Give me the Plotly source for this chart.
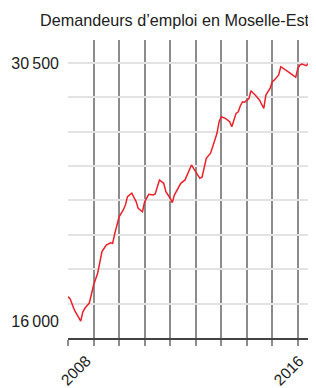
import plotly.graph_objects as go

# Monthly job-seeker counts, Moselle-Est
months = [
    "2008-01", "2008-02", "2008-04", "2008-06", "2008-07", "2008-08", "2008-09", "2008-11", "2008-12",
    "2009-01", "2009-03", "2009-04", "2009-05", "2009-06", "2009-07", "2009-09", "2009-10", "2009-11", "2009-12",
    "2010-01", "2010-03", "2010-04", "2010-05", "2010-07", "2010-09", "2010-10", "2010-12",
    "2011-01", "2011-03", "2011-05", "2011-06", "2011-07", "2011-08", "2011-10", "2011-11",
    "2012-01", "2012-02", "2012-03", "2012-05", "2012-06", "2012-08", "2012-09", "2012-10", "2012-11", "2012-12",
    "2013-02", "2013-03", "2013-04", "2013-05", "2013-06", "2013-08", "2013-09", "2013-10", "2013-11", "2013-12",
    "2014-01", "2014-03", "2014-05", "2014-06", "2014-08", "2014-09", "2014-10", "2014-11", "2014-12",
    "2015-02", "2015-03", "2015-05", "2015-07", "2015-09", "2015-10", "2015-12",
    "2016-01", "2016-02", "2016-04", "2016-05", "2016-07", "2016-09", "2016-10", "2016-12",
    "2017-01", "2017-02", "2017-03", "2017-05", "2017-06", "2017-08",
]
jobseekers = [
    17370, 17240, 16620, 16150, 16000, 16520, 16730, 17010, 17460,
    18020, 18700, 19430, 19900, 20090, 20270, 20400, 20370, 20930, 21400,
    21860, 22240, 22520, 22990, 23180, 22710, 22330, 22140,
    22700, 23120, 23080, 23140, 23550, 23930, 23740, 23270,
    22900, 22650, 23080, 23550, 23740, 23930, 24210, 24490, 24770, 24580,
    24150, 24020, 24080, 24580, 25140, 25430, 25800, 26170, 26550, 27200,
    27480, 27390, 27200, 26920, 27670, 27760, 28100, 28320, 28300,
    28500, 28940, 28700, 28420, 27950, 28700, 29080,
    29450, 29550, 29830, 30290, 30150, 29960, 29880, 29700,
    30200, 30390, 30440, 30350, 30480, 30500,
]

y_tick_values = [16000, 30500]
y_tick_labels = ["16\u202f000", "30\u202f500"]
x_tick_values = ["2008-09-20", "2017-01-20"]
x_tick_labels = ["2008", "2016"]
title_text = "Demandeurs d\u2019emploi en Moselle-Est"

Y_MIN, Y_MAX = 15045, 31793
Y_GRID_STEP = (30509 - Y_MIN) / 8

fig = go.Figure()
fig.add_trace(go.Scatter(
    x=months, y=jobseekers, mode="lines",
    line=dict(color="#e8232b", width=1.5),
    hoverinfo="skip", showlegend=False,
))

FONT = "Liberation Sans, Arial, sans-serif"

# the page has an 8px body margin, so the figure is shrunk accordingly
fig.update_layout(
    width=308, height=380,
    margin=dict(l=60, r=3, t=32, b=50),
    paper_bgcolor="white", plot_bgcolor="white",
    font=dict(family=FONT, size=15, color="#222222"),
    annotations=[dict(
        text=title_text, xref="paper", yref="paper",
        x=0.995, y=1 + 20 / 298, xanchor="right", yanchor="middle",
        showarrow=False,
        font=dict(family=FONT, size=16.2, color="#222222"),
    )],
)

fig.update_xaxes(
    type="date", automargin=False,
    range=["2008-01-01", "2017-08-05"],
    tickmode="array", tickvals=x_tick_values, ticktext=x_tick_labels,
    tickangle=-45, ticks="", showgrid=False, zeroline=False,
    showline=True, linecolor="#444444", linewidth=1.5,
    ticklabelstandoff=6,
    tickfont=dict(family=FONT, size=15.5, color="#222222"),
    minor=dict(
        tickmode="linear", tick0="2008-01-01", dtick="M12",
        showgrid=True, gridcolor="#8c8c8c", gridwidth=1.5,
        ticks="outside", ticklen=6, tickcolor="#8c8c8c", tickwidth=1.5,
    ),
)

fig.update_yaxes(
    automargin=False,
    range=[Y_MIN, Y_MAX],
    tickmode="array", tickvals=y_tick_values, ticktext=y_tick_labels,
    ticks="", showgrid=False, zeroline=False, showline=False,
    ticklabelstandoff=8,
    tickfont=dict(family=FONT, size=16, color="#222222"),
    minor=dict(
        tickmode="linear", tick0=Y_MIN, dtick=Y_GRID_STEP,
        showgrid=True, gridcolor="#e3e3e3", gridwidth=1.5, ticks="",
    ),
)

fig.write_html("out.html")
